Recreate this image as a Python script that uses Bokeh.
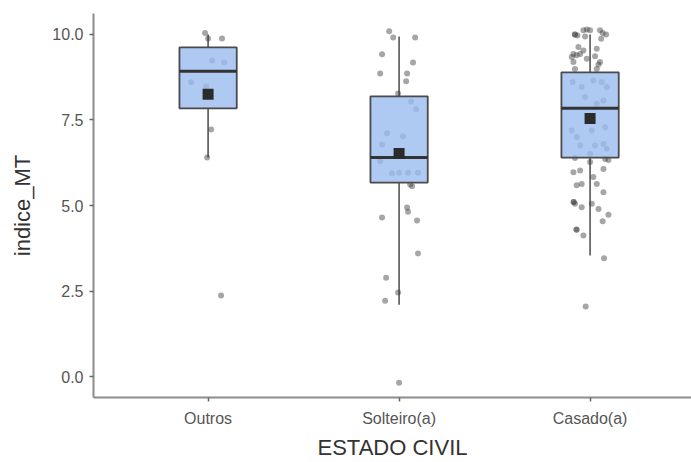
from bokeh.plotting import figure
from bokeh.models import Range1d, FixedTicker, ColumnDataSource
from bokeh.embed import file_html
from bokeh.resources import INLINE

# Groups on the x axis
categories = ["Outros", "Solteiro(a)", "Casado(a)"]

# Box summary per group
q1 = [7.84, 5.67, 6.40]
median = [8.92, 6.40, 7.84]
q3 = [9.62, 8.19, 8.89]
whisker_low = [6.40, 2.10, 3.54]
whisker_high = [10.0, 9.94, 10.0]
mean = [8.25, 6.52, 7.54]

# Individual observations (jittered) per group
outros_values = [10.04, 9.88, 9.88, 9.24, 9.18, 8.60, 8.48, 7.22, 6.40, 2.37]
outros_jitter = [-0.016, 0.073, 0.000, 0.021, 0.084, -0.089, -0.010, 0.016, -0.005, 0.068]

solteiro_values = [10.09, 9.91, 9.91, 9.42, 9.18, 8.86, 8.86, 8.63, 8.27, 8.04,
                   7.81, 7.11, 7.02, 6.78, 6.29, 5.94, 5.96, 5.96, 5.96, 5.61,
                   5.56, 4.94, 4.82, 4.65, 4.56, 3.60, 2.89, 2.46, 2.22, -0.18]
solteiro_jitter = [-0.052, -0.031, 0.084, -0.089, 0.073, -0.099, 0.042, 0.037, -0.005, 0.063,
                   0.089, -0.063, 0.021, -0.089, -0.099, -0.037, 0.000, 0.047, 0.099, 0.058,
                   0.068, 0.042, 0.047, -0.089, 0.094, 0.099, -0.068, -0.005, -0.073, 0.000]

casado_values = [10.00, 9.97, 10.12, 10.14, 10.12, 10.12, 10.04, 10.00, 9.94, 9.87,
                 9.63, 9.53, 9.58, 9.43, 9.34, 9.39, 9.36, 9.19, 9.19, 9.43,
                 9.29, 9.12, 8.99, 8.99, 8.61, 8.46, 8.65, 8.61, 8.46, 8.17,
                 8.07, 7.97, 7.19, 7.00, 7.19, 7.29, 6.75, 6.75, 6.80, 6.66,
                 6.51, 6.39, 6.27, 6.36, 6.33, 5.97, 6.02, 6.07, 5.83, 5.59,
                 5.63, 5.63, 5.39, 5.10, 5.05, 4.95, 5.05, 4.90, 4.73, 4.54,
                 4.29, 4.12, 3.46, 2.05, 10.00, 4.30, 5.10]
casado_jitter = [-0.079, -0.066, -0.035, -0.017, 0.000, 0.052, 0.066, 0.084, -0.026, 0.058,
                 -0.061, -0.035, 0.035, -0.087, -0.096, -0.070, 0.026, 0.052, -0.087, -0.052,
                 -0.017, 0.044, -0.079, 0.035, -0.091, -0.044, 0.017, 0.061, 0.087, -0.026,
                 0.070, 0.035, -0.096, -0.070, 0.009, 0.079, -0.052, 0.026, 0.070, 0.087,
                 0.000, -0.079, 0.000, 0.079, 0.096, -0.087, -0.052, 0.070, 0.017, -0.070,
                 -0.044, 0.035, 0.070, -0.087, -0.079, -0.044, 0.009, 0.044, 0.096, 0.066,
                 -0.070, -0.035, 0.073, -0.023, -0.080, -0.072, -0.085]

y_ticks = [0.0, 2.5, 5.0, 7.5, 10.0]

FONT = "Liberation Sans"
BOX_WIDTH = 0.3

positions = [1, 2, 3]

p = figure(width=691, height=462, output_backend="svg", toolbar_location=None,
           x_range=Range1d(0.4, 3.531), y_range=Range1d(-0.61, 10.61),
           min_border_left=93, min_border_right=0, min_border_top=13, min_border_bottom=63)
p.outline_line_color = None
p.grid.grid_line_color = None
p.background_fill_color = "white"
p.border_fill_color = "white"

# whiskers: from box edges out to the extremes
p.segment(x0=positions, y0=whisker_low, x1=positions, y1=q1,
          line_color="#555555", line_width=1.6)
p.segment(x0=positions, y0=q3, x1=positions, y1=whisker_high,
          line_color="#555555", line_width=1.6)

# jittered observations, drawn beneath the translucent boxes
groups = [(1, outros_values, outros_jitter),
          (2, solteiro_values, solteiro_jitter),
          (3, casado_values, casado_jitter)]
for pos, vals, jit in groups:
    p.scatter(x=[pos + j for j in jit], y=vals, size=6, fill_color="#3a3a3a",
              fill_alpha=0.45, line_color=None)

# boxes
box_src = ColumnDataSource(dict(x=positions, q1=q1, q3=q3, med=median, mean=mean))
p.vbar(x="x", bottom="q1", top="q3", width=BOX_WIDTH, source=box_src,
       fill_color="#9abbef", fill_alpha=0.8, line_color="#4a4a4a", line_width=1.8)
p.segment(x0=[x - BOX_WIDTH / 2 for x in positions], y0=median,
          x1=[x + BOX_WIDTH / 2 for x in positions], y1=median,
          line_color="#333333", line_width=3)

# group means
p.scatter(x="x", y="mean", source=box_src, marker="square", size=11,
          fill_color="#2b2b2b", line_color=None)

# axes
for ax in (p.xaxis[0], p.yaxis[0]):
    ax.axis_line_color = "#8c8c8c"
    ax.axis_line_width = 2
    ax.major_tick_line_color = "#666666"
    ax.major_tick_line_width = 1.5
    ax.major_tick_out = 4
    ax.major_tick_in = 0
    ax.minor_tick_line_color = None
    ax.major_label_text_font = FONT
    ax.major_label_text_font_size = "16px"
    ax.major_label_text_color = "#555555"
    ax.axis_label_text_font = FONT
    ax.axis_label_text_font_size = "22px"
    ax.axis_label_text_font_style = "normal"
    ax.axis_label_text_color = "#333333"

p.xaxis.ticker = FixedTicker(ticks=positions)
p.xaxis.major_label_overrides = {i + 1: c for i, c in enumerate(categories)}
p.xaxis.axis_label = "ESTADO CIVIL"
p.xaxis.major_label_standoff = 8
p.xaxis.axis_label_standoff = 5

p.yaxis.ticker = FixedTicker(ticks=y_ticks)
p.yaxis.major_label_overrides = {t: f"{t:.1f}" for t in y_ticks}
p.yaxis.axis_label = "indice_MT"
p.yaxis.major_label_standoff = 6
p.yaxis.axis_label_standoff = 14

open("out.html", "w").write(file_html(p, INLINE))
